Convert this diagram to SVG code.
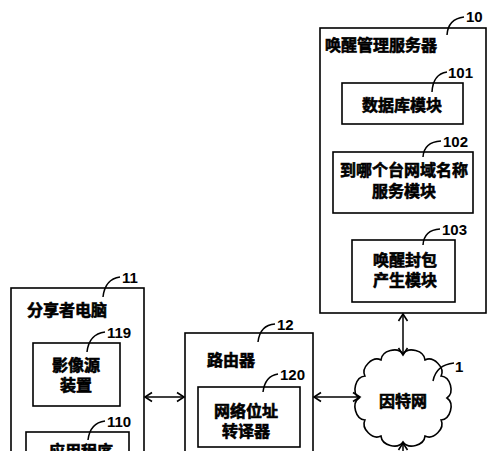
<svg xmlns="http://www.w3.org/2000/svg" width="500" height="451" viewBox="0 0 500 451">
<style>
.box{fill:#fff;stroke:#000;stroke-width:1.6}
.t{font-family:"Liberation Sans","Noto Sans CJK SC",sans-serif;font-weight:bold;font-size:16px;fill:#000;stroke:#000;stroke-width:0.6}
.c{text-anchor:middle}
.n{font-family:"Liberation Sans",Arial,sans-serif;font-weight:bold;font-size:15px;fill:#000}
.ld{fill:none;stroke:#000;stroke-width:1.5}
.ar{fill:none;stroke:#000;stroke-width:1.5;marker-start:url(#ah);marker-end:url(#ah)}
</style>
<defs>
<marker id="ah" viewBox="-9 -6 11 12" refX="0" refY="0" markerWidth="11" markerHeight="12" markerUnits="userSpaceOnUse" orient="auto-start-reverse" overflow="visible">
<path d="M-7,-4.5 L0,0 L-7,4.5" fill="none" stroke="#000" stroke-width="1.6"/>
</marker>
</defs>
<rect width="500" height="451" fill="#fff"/>

<g id="node10">
<rect class="box" x="320" y="28" width="166" height="285"/>
<text class="t" x="325" y="51">唤醒管理服务器</text>
<path class="ld" d="M447,35 Q448,19 464,17"/>
<text class="n" x="466" y="22">10</text>
</g>

<g id="node101">
<rect class="box" x="342" y="83" width="121" height="41"/>
<text class="t c" x="402" y="111">数据库模块</text>
<path class="ld" d="M432,92 Q433,74 447,72"/>
<text class="n" x="448" y="78">101</text>
</g>

<g id="node102">
<rect class="box" x="333" y="152" width="140" height="61"/>
<text class="t c" x="404" y="176">到哪个台网域名称</text>
<text class="t c" x="404" y="197">服务模块</text>
<path class="ld" d="M423,157 Q424,142 441,141"/>
<text class="n" x="443" y="147">102</text>
</g>

<g id="node103">
<rect class="box" x="352" y="240" width="103" height="62"/>
<text class="t c" x="405" y="266">唤醒封包</text>
<text class="t c" x="405" y="286">产生模块</text>
<path class="ld" d="M423,245 Q424,230 440,229"/>
<text class="n" x="442" y="235">103</text>
</g>

<g id="node11">
<rect class="box" x="11" y="288" width="133" height="200"/>
<text class="t" x="27" y="316">分享者电脑</text>
<path class="ld" d="M103,297 Q105,279 120,277"/>
<text class="n" x="122" y="283">11</text>
</g>

<g id="node119">
<rect class="box" x="33" y="343" width="87" height="63"/>
<text class="t c" x="76" y="371">影像源</text>
<text class="t c" x="76" y="391">装置</text>
<path class="ld" d="M87,352 Q89,334 105,332"/>
<text class="n" x="107" y="338">119</text>
</g>

<g id="node110">
<rect class="box" x="26" y="432" width="103" height="40"/>
<text class="t c" x="81" y="457">应用程序</text>
<path class="ld" d="M88,440 Q90,423 105,421"/>
<text class="n" x="107" y="427">110</text>
</g>

<g id="node12">
<rect class="box" x="185" y="333" width="128" height="150"/>
<text class="t" x="207" y="366">路由器</text>
<path class="ld" d="M258,342 Q260,325 275,324"/>
<text class="n" x="277" y="330">12</text>
</g>

<g id="node120">
<rect class="box" x="198" y="387" width="102" height="60"/>
<text class="t c" x="246" y="417">网络位址</text>
<text class="t c" x="246" y="437">转译器</text>
<path class="ld" d="M263,392 Q265,376 278,374"/>
<text class="n" x="280" y="380">120</text>
</g>

<g id="node1">
<path class="box" d="M447,398 C454.7,403.4 450.5,419.1 441.1,420 C445.1,428.6 433.6,440.1 425,436.1 C424.1,445.5 408.4,449.7 403,442 C397.6,449.7 381.9,445.5 381,436.1 C372.4,440.1 360.9,428.6 364.9,420 C355.5,419.1 351.3,403.4 359,398 C351.3,392.6 355.5,376.9 364.9,376 C360.9,367.4 372.4,355.9 381,359.9 C381.9,350.5 397.6,346.3 403,354 C408.4,346.3 424.1,350.5 425,359.9 C433.6,355.9 445.1,367.4 441.1,376 C450.5,376.9 454.7,392.6 447,398 Z"/>
<text class="t c" x="403" y="407">因特网</text>
<path class="ld" d="M433,381 Q436,365 454,363"/>
<text class="n" x="455" y="372">1</text>
</g>

<g id="connectors">
<line class="ar" x1="145" y1="397" x2="184" y2="397"/>
<line class="ar" x1="314" y1="397" x2="360" y2="397"/>
<line class="ar" x1="403" y1="314" x2="403" y2="355"/>
<line x1="403" y1="460" x2="403" y2="443" fill="none" stroke="#000" stroke-width="1.5" marker-end="url(#ah)"/>
</g>
</svg>
